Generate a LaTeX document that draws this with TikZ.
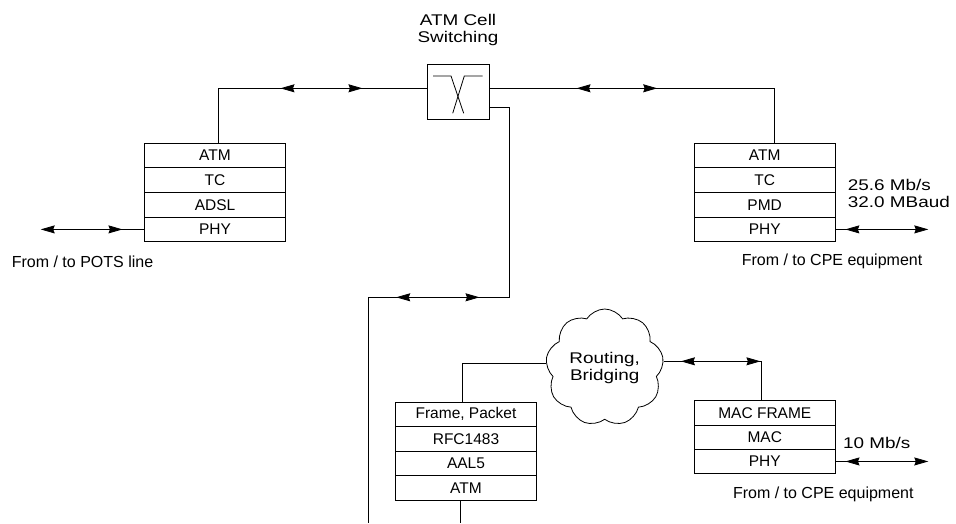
\documentclass[tikz,border=0pt]{standalone}
\usepackage{fontspec}
\setmainfont{Liberation Sans}
\newfontfamily\lblfont[FakeStretch=1.22]{Liberation Sans}
\usetikzlibrary{arrows.meta,shapes.symbols,decorations.markings}

\tikzset{
  conn/.style={line width=0.8pt},
  layer/.style={draw, line width=0.9pt, minimum width=141pt, minimum height=24.6pt,
    inner sep=0pt, font=\fontsize{15.5}{17}\selectfont},
  note/.style={inner sep=0pt, font=\fontsize{16}{17}\selectfont},
  label/.style={inner sep=0pt, align=center, font=\lblfont\fontsize{15.5}{17}\selectfont},
  mkf/.style={postaction={decorate,decoration={markings,
      mark=at position #1 with {\arrow{Stealth[length=14pt,width=8pt,inset=1.5pt]}}}}},
  mkr/.style={postaction={decorate,decoration={markings,
      mark=at position #1 with {\arrowreversed{Stealth[length=14pt,width=8pt,inset=1.5pt]}}}}},
  endtip/.style={-{Stealth[length=14pt,width=8pt,inset=1.5pt]}},
}

\begin{document}
\begin{tikzpicture}[x=1pt,y=-1pt]
\useasboundingbox (0,0) rectangle (956,523);

% ATM cell switch
\node[draw, line width=0.9pt, minimum width=61.7pt, minimum height=55pt, inner sep=0] (sw) at (458.2,91.5) {};
\draw[line width=0.8pt] ([shift={(-25.2pt,15.5pt)}]sw.center) -- ([shift={(-7.2pt,15.5pt)}]sw.center)
   -- ([shift={(5.5pt,-21.8pt)}]sw.center);
\draw[line width=0.8pt] ([shift={(24.5pt,15.5pt)}]sw.center) -- ([shift={(6.1pt,15.5pt)}]sw.center)
   -- ([shift={(-5.5pt,-21.8pt)}]sw.center);
\node[label] (swl) at (458,29.5) {ATM Cell\\Switching};

% ADSL side stack
\node[layer] (l1) at (215,155.6) {ATM};
\node[layer] (l2) at (215,180.2) {TC};
\node[layer] (l3) at (215,204.8) {ADSL};
\node[layer] (l4) at (215,229.4) {PHY};

% 25.6 Mb/s side stack
\node[layer] (r1) at (764.7,155.6) {ATM};
\node[layer] (r2) at (764.7,180.2) {TC};
\node[layer] (r3) at (764.7,204.8) {PMD};
\node[layer] (r4) at (764.7,229.4) {PHY};

% AAL5 stack
\node[layer, minimum height=24.5pt] (b1) at (466,414.25) {Frame, Packet};
\node[layer, minimum height=24.5pt] (b2) at (466,438.75) {RFC1483};
\node[layer, minimum height=24.5pt] (b3) at (466,463.25) {AAL5};
\node[layer, minimum height=24.5pt] (b4) at (466,487.75) {ATM};

% Ethernet stack
\node[layer, minimum height=24.3pt] (m1) at (764.8,412.85) {MAC FRAME};
\node[layer, minimum height=24.3pt] (m2) at (764.8,437.15) {MAC};
\node[layer, minimum height=24.3pt] (m3) at (764.8,461.45) {PHY};

% router cloud
\node[cloud, draw, line width=0.8pt, cloud puffs=9, cloud puff arc=115, aspect=1,
      minimum width=118pt, minimum height=117pt, inner sep=0pt, align=center,
      font=\lblfont\fontsize{15.5}{17}\selectfont]
      (cl) at (604.7,367.5) {Routing,\\Bridging};

% text labels
\node[note] (potsl) at (82.5,261.7) {From / to POTS line};
\node[note] (cpel1) at (832,261.7) {From / to CPE equipment};
\node[note] (cpel2) at (823.3,494.3) {From / to CPE equipment};
\node[label, align=left, anchor=west] (rate1) at (847.7,193.3) {25.6 Mb/s\\32.0 MBaud};
\node[label] (rate2) at (876.7,442.7) {10 Mb/s};

% free line ends
\coordinate (pots) at (40.7,229.4);
\coordinate (cpe1) at (928.3,229.4);
\coordinate (cpe2) at (928.3,461.45);
\coordinate (j1) at (509.5,297.3);
\coordinate (dn1) at (368,523);
\coordinate (dn2) at (460,523);

% connectors
\draw[conn, mkr=116.7pt, mkf=198.7pt] ([xshift=3.3pt]l1.north) |- ([yshift=3.2pt]sw.west);
\draw[conn, mkr=87pt, mkf=167.7pt] ([yshift=3.2pt]sw.east) -| ([xshift=10pt]r1.north);
\draw[conn, mkr=240pt, mkf=323.3pt] ([yshift=-15.8pt]sw.east) -| (j1) -| (dn1);
\draw[conn] ([xshift=-6pt]b4.south) -- (dn2);
\draw[conn] ([xshift=-3.3pt]b1.north) |- (cl.176.8);
\draw[conn, mkr=40.2pt, mkf=119.7pt] ([xshift=-3.1pt]m1.north) |- (cl.6.4);
\draw[conn, endtip, mkr=21.6pt] (l4.west) -- (pots);
\draw[conn, endtip, mkr=9.7pt] (r4.east) -- (cpe1);
\draw[conn, endtip, mkr=9.7pt] (m3.east) -- (cpe2);
\end{tikzpicture}
\end{document}
